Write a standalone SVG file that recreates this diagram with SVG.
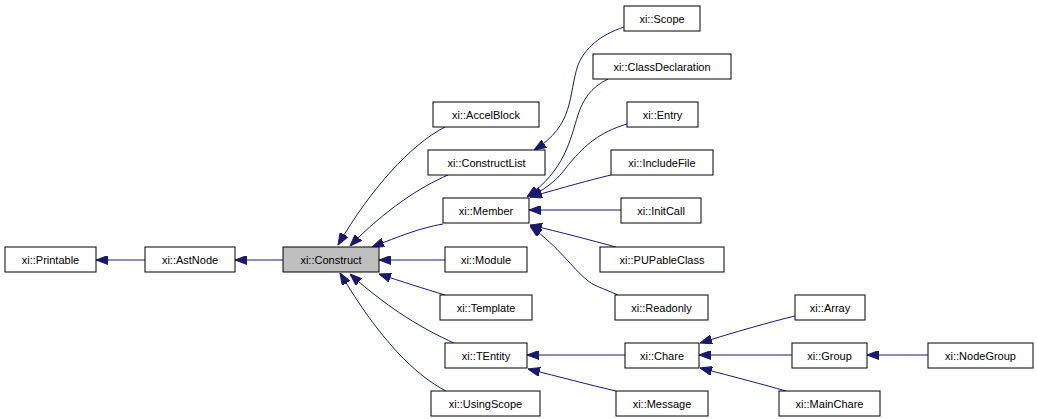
<svg xmlns="http://www.w3.org/2000/svg" width="1037" height="419" viewBox="0 0 1037 419">
<style>
.n rect{fill:#fff;stroke:#000;stroke-width:1}
.n text{font-family:"Liberation Sans",Arial,sans-serif;font-size:11px;text-anchor:middle;fill:#000}
.e path{fill:none;stroke:#191970;stroke-width:1;marker-end:url(#a)}
</style>
<defs><marker id="a" markerUnits="userSpaceOnUse" markerWidth="12" markerHeight="9" refX="12" refY="4.5" orient="auto"><path d="M0,0 L12,4.5 L0,9 z" fill="#191970" stroke="#191970"/></marker></defs>
<rect width="1037" height="419" fill="#fff"/>
<g class="e">
<path d="M145,260 H96"/>
<path d="M283,260 H235"/>
<path d="M445,127 C410,145 370,190 338,245"/>
<path d="M448,175 C420,187 385,210 350,246"/>
<path d="M443,224 C420,228 400,236 372,247"/>
<path d="M445,260 H379"/>
<path d="M445,295 C425,289 400,281 379,274"/>
<path d="M454,343 C425,330 390,310 350,274"/>
<path d="M446,391 C415,375 380,340 340,273"/>
<path d="M624,27 C600,35 585,48 578,65 C568,95 575,125 534,150"/>
<path d="M608,79 C590,88 583,100 578,115 C570,140 565,170 527,197"/>
<path d="M627,124 C600,132 585,145 570,163 C562,172 558,182 530,197"/>
<path d="M611,175 C590,180 565,187 530,197"/>
<path d="M621,210 H529"/>
<path d="M616,247 C590,240 560,232 530,225"/>
<path d="M618,295 C602,288 592,285 587,280 C572,268 560,248 530,226"/>
<path d="M625,355 H527"/>
<path d="M616,391 C590,385 560,377 528,369"/>
<path d="M795,316 C770,322 735,332 700,343"/>
<path d="M792,355 H699"/>
<path d="M786,391 C765,385 735,377 700,368"/>
<path d="M928,355 H867"/>
</g>
<g id="Printable" class="n"><rect x="5" y="247" width="91" height="25"/><text x="50.5" y="264">xi::Printable</text></g>
<g id="AstNode" class="n"><rect x="145" y="247" width="90" height="25"/><text x="190" y="264">xi::AstNode</text></g>
<g id="Construct" class="n"><rect x="283" y="247" width="96" height="25" style="fill:#bfbfbf"/><text x="331" y="264">xi::Construct</text></g>
<g id="AccelBlock" class="n"><rect x="433" y="102" width="106" height="25"/><text x="486" y="119">xi::AccelBlock</text></g>
<g id="ConstructList" class="n"><rect x="428" y="150" width="117" height="25"/><text x="486.5" y="167">xi::ConstructList</text></g>
<g id="Member" class="n"><rect x="443" y="198" width="86" height="25"/><text x="486" y="215">xi::Member</text></g>
<g id="Module" class="n"><rect x="445" y="247" width="82" height="25"/><text x="486" y="264">xi::Module</text></g>
<g id="Template" class="n"><rect x="440" y="295" width="92" height="25"/><text x="486" y="312">xi::Template</text></g>
<g id="TEntity" class="n"><rect x="445" y="343" width="82" height="25"/><text x="486" y="360">xi::TEntity</text></g>
<g id="UsingScope" class="n"><rect x="431" y="391" width="109" height="25"/><text x="485.5" y="408">xi::UsingScope</text></g>
<g id="Scope" class="n"><rect x="624" y="6" width="76" height="25"/><text x="662" y="23">xi::Scope</text></g>
<g id="ClassDeclaration" class="n"><rect x="593" y="54" width="138" height="25"/><text x="662" y="71">xi::ClassDeclaration</text></g>
<g id="Entry" class="n"><rect x="627" y="102" width="71" height="25"/><text x="662.5" y="119">xi::Entry</text></g>
<g id="IncludeFile" class="n"><rect x="611" y="150" width="102" height="25"/><text x="662" y="167">xi::IncludeFile</text></g>
<g id="InitCall" class="n"><rect x="621" y="198" width="80" height="25"/><text x="661" y="215">xi::InitCall</text></g>
<g id="PUPableClass" class="n"><rect x="600" y="247" width="124" height="25"/><text x="662" y="264">xi::PUPableClass</text></g>
<g id="Readonly" class="n"><rect x="615" y="295" width="93" height="25"/><text x="661.5" y="312">xi::Readonly</text></g>
<g id="Array" class="n"><rect x="795" y="295" width="70" height="25"/><text x="830" y="312">xi::Array</text></g>
<g id="Chare" class="n"><rect x="625" y="343" width="74" height="25"/><text x="662" y="360">xi::Chare</text></g>
<g id="Message" class="n"><rect x="616" y="391" width="92" height="25"/><text x="662" y="408">xi::Message</text></g>
<g id="Group" class="n"><rect x="792" y="343" width="75" height="25"/><text x="829.5" y="360">xi::Group</text></g>
<g id="MainChare" class="n"><rect x="779" y="391" width="101" height="25"/><text x="829.5" y="408">xi::MainChare</text></g>
<g id="NodeGroup" class="n"><rect x="928" y="343" width="105" height="25"/><text x="980.5" y="360">xi::NodeGroup</text></g>
</svg>
